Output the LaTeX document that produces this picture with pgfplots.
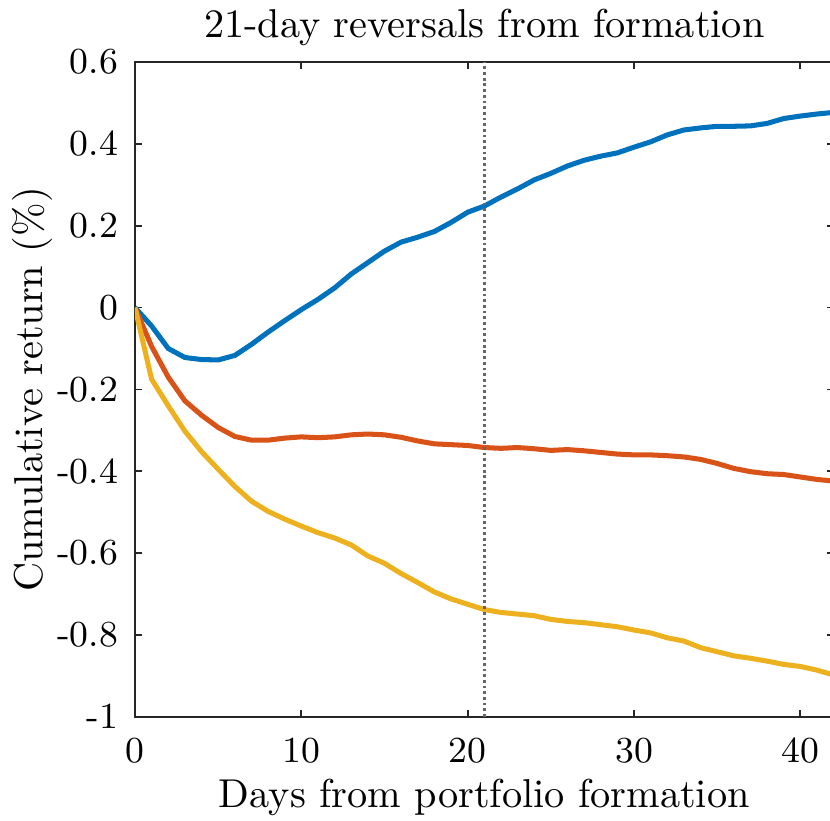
\documentclass[border=0pt]{standalone}
\usepackage{fontspec}
\usepackage{pgfplots}
\pgfplotsset{compat=1.18}
\definecolor{mblue}{rgb}{0,0.447,0.741}
\definecolor{mred}{rgb}{0.85,0.325,0.098}
\definecolor{myellow}{rgb}{0.929,0.694,0.125}
\definecolor{axgray}{rgb}{0.15,0.15,0.15}
\begin{document}
\begin{tikzpicture}
\begin{axis}[
  scale only axis, width=173.4pt, height=162.5pt,
  xmin=0, xmax=42, ymin=-1, ymax=0.6,
  xtick={0,10,20,30,40},
  ytick={-1,-0.8,-0.6,-0.4,-0.2,0,0.2,0.4,0.6},
  yticklabels={-1,-0.8,-0.6,-0.4,-0.2,0,0.2,0.4,0.6},
  xticklabels={0,10,20,30,40},
  tick align=inside, major tick length=1.75pt,
  axis line style={axgray, line width=0.45pt},
  every tick/.style={axgray, line width=0.45pt},
  tick label style={font=\fontsize{9.1}{11}\selectfont, text=black},
  yticklabel style={anchor=east, inner sep=0pt, xshift=-4pt},
  xticklabel style={anchor=base, inner sep=0pt, yshift=-11.4pt},
  title={21-day reversals from formation},
  title style={font=\fontsize{10}{12}\selectfont, at={(axis description cs:0.5,1.038)}, anchor=base, inner sep=0pt, yshift=-6pt},
  xlabel={Days from portfolio formation},
  ylabel={Cumulative return (\%)},
  label style={font=\fontsize{10}{12}\selectfont},
  xlabel style={at={(axis description cs:0.5,-0.139)}, anchor=base, inner sep=0pt},
  ylabel style={at={(axis description cs:-0.133,0.5)}, anchor=base, inner sep=0pt},
  clip=true,
]
\addplot[mblue, line width=1.25pt] coordinates {
(0,0) (1,-0.045) (2,-0.10) (3,-0.122) (4,-0.127) (5,-0.128) (6,-0.117) (7,-0.09) (8,-0.06) (9,-0.032)
(10,-0.005) (11,0.02) (12,0.048) (13,0.082) (14,0.11) (15,0.138) (16,0.16) (17,0.172) (18,0.186) (19,0.208)
(20,0.233) (21,0.248) (22,0.27) (23,0.29) (24,0.312) (25,0.328) (26,0.346) (27,0.36) (28,0.37) (29,0.378)
(30,0.392) (31,0.405) (32,0.422) (33,0.434) (34,0.439) (35,0.443) (36,0.443) (37,0.444) (38,0.45) (39,0.462)
(40,0.468) (41,0.473) (42,0.477)};
\addplot[mred, line width=1.25pt] coordinates {
(0,0) (1,-0.095) (2,-0.17) (3,-0.228) (4,-0.263) (5,-0.293) (6,-0.315) (7,-0.324) (8,-0.324) (9,-0.319)
(10,-0.316) (11,-0.318) (12,-0.316) (13,-0.311) (14,-0.309) (15,-0.311) (16,-0.317) (17,-0.326) (18,-0.333) (19,-0.335)
(20,-0.337) (21,-0.342) (22,-0.344) (23,-0.342) (24,-0.345) (25,-0.349) (26,-0.347) (27,-0.35) (28,-0.354) (29,-0.358)
(30,-0.36) (31,-0.36) (32,-0.362) (33,-0.365) (34,-0.371) (35,-0.381) (36,-0.393) (37,-0.401) (38,-0.406) (39,-0.408)
(40,-0.414) (41,-0.42) (42,-0.424)};
\addplot[myellow, line width=1.25pt] coordinates {
(0,0) (1,-0.175) (2,-0.24) (3,-0.302) (4,-0.352) (5,-0.395) (6,-0.437) (7,-0.473) (8,-0.498) (9,-0.517)
(10,-0.534) (11,-0.55) (12,-0.563) (13,-0.58) (14,-0.607) (15,-0.625) (16,-0.65) (17,-0.672) (18,-0.695) (19,-0.712)
(20,-0.725) (21,-0.738) (22,-0.745) (23,-0.749) (24,-0.753) (25,-0.762) (26,-0.767) (27,-0.77) (28,-0.775) (29,-0.78)
(30,-0.788) (31,-0.795) (32,-0.807) (33,-0.815) (34,-0.831) (35,-0.841) (36,-0.851) (37,-0.857) (38,-0.864) (39,-0.872)
(40,-0.877) (41,-0.886) (42,-0.898)};
\addplot[black!60, line width=0.67pt, dash pattern=on 0.67pt off 0.74pt] coordinates {(21,-1) (21,0.6)};
\end{axis}
\pgfresetboundingbox
\path[use as bounding box] ([shift={(-33.5pt,-25.8pt)}]current axis.south west) rectangle ([shift={(172.5pt,177.9pt)}]current axis.south west);
\end{tikzpicture}
\end{document}
